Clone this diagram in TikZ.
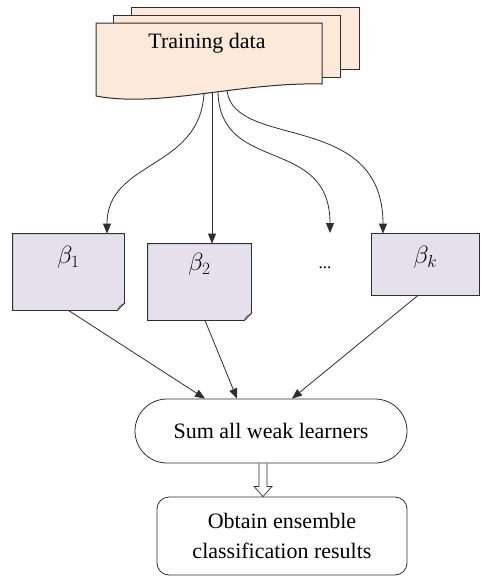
\documentclass[tikz,border=0pt]{standalone}
\usepackage{fontspec}
\setmainfont{Liberation Serif}
\usetikzlibrary{positioning,arrows.meta}
\definecolor{paper}{HTML}{FCE9DA}
\definecolor{lilac}{HTML}{E6E0EC}
\definecolor{ink}{HTML}{2E2E2E}

% box of a weak learner, with a folded corner at the bottom right
\newcommand{\dogear}[1]{%
  \filldraw[fill=lilac] (#1.north west) -- (#1.north east) -- ([yshift=7pt]#1.south east)
    -- ([xshift=-7pt]#1.south east) -- (#1.south west) -- cycle;
  \filldraw[fill=black!30,line width=0.4pt] ([xshift=-7pt]#1.south east) -- ([yshift=7pt]#1.south east)
    -- ([xshift=-5pt,yshift=4pt]#1.south east) -- cycle;}

\begin{document}
\begin{tikzpicture}[x=1pt,y=-1pt,color=ink,
    every path/.style={line width=0.8pt},
    sheet/.style={fill=paper,line width=1pt},
    wl/.style={minimum height=76pt, inner sep=0pt},
    lab/.style={inner sep=0pt, text=black, font=\fontsize{22}{26}\selectfont},
    beta/.style={lab, font=\fontsize{25}{28}\selectfont},
    rbox/.style={draw, text=black, align=center, inner sep=0pt, font=\fontsize{22}{30}\selectfont},
    >={Triangle[length=10pt,width=8pt]}]
    \useasboundingbox (0,0) rectangle (481,576);
    % training data: three sheets
    \filldraw[sheet] (131,7) rectangle (359,69);
    \filldraw[sheet] (113,15) rectangle (340,77);
    \filldraw[sheet] (96,23) -- (322,23) -- (322,84) .. controls (240,82) and (160,108) .. (96,96) -- cycle;
    \node[lab] (data) at (207,43) {Training data};
    \coordinate (s1) at (204,93);
    \coordinate (s2) at (212,92);
    \coordinate (s3) at (218,92);
    \coordinate (s4) at (227,91);
    % weak learners
    \node[wl,minimum width=111pt] (b1) at (68.5,272) {};
    \node[wl,minimum width=103pt] (b2) at (199.5,282) {};
    \node[wl,minimum width=107pt,minimum height=61pt] (bk) at (425.5,264.5) {};
    \dogear{b1}
    \dogear{b2}
    \filldraw[fill=lilac] (bk.north west) rectangle (bk.south east);
    \node[beta,below=12pt of b1.north] (l1) {$\beta_1$};
    \node[beta,below=9pt of b2.north] (l2) {$\beta_2$};
    \node[beta,below=12pt of bk.north] (lk) {$\beta_k$};
    \node[lab,font=\fontsize{17}{20}\selectfont] (dots) at (325,268) {...};
    \coordinate (dtop) at (330,233);
    % sum and result
    \node[rbox,minimum width=272pt,minimum height=64pt,rounded corners=32pt] (sum) at (271,431) {Sum all weak learners};
    \node[rbox,minimum width=250pt,minimum height=78pt,rounded corners=12pt] (result) at (282,536) {Obtain ensemble\\classification results};
    \draw[->] (s1) .. controls (200,170) and (107,160) .. ([xshift=38.5pt]b1.north);
    \draw[->] (s2) -- ([xshift=12.5pt]b2.north);
    \draw[->] (s3) .. controls (220,175) and (330,135) .. (dtop);
    \draw[->] (s4) .. controls (235,150) and (383,110) .. ([xshift=-42.5pt]bk.north);
    \draw[->] (b1.south) -- ([xshift=-66pt]sum.north);
    \draw[->] ([xshift=5.5pt]b2.south) -- ([xshift=-34pt]sum.north);
    \draw[->] ([xshift=-7.5pt]bk.south) -- ([xshift=21pt]sum.north);
    \draw[line width=0.7pt] ([xshift=-12pt]sum.south) -- ([xshift=-12pt,yshift=-23pt]sum.south)
      -- ([xshift=-17pt,yshift=-23pt]sum.south) -- ([xshift=-19pt]result.north)
      -- ([xshift=1pt,yshift=-23pt]sum.south) -- ([xshift=-4pt,yshift=-23pt]sum.south)
      -- ([xshift=-4pt]sum.south);
\end{tikzpicture}
\end{document}
